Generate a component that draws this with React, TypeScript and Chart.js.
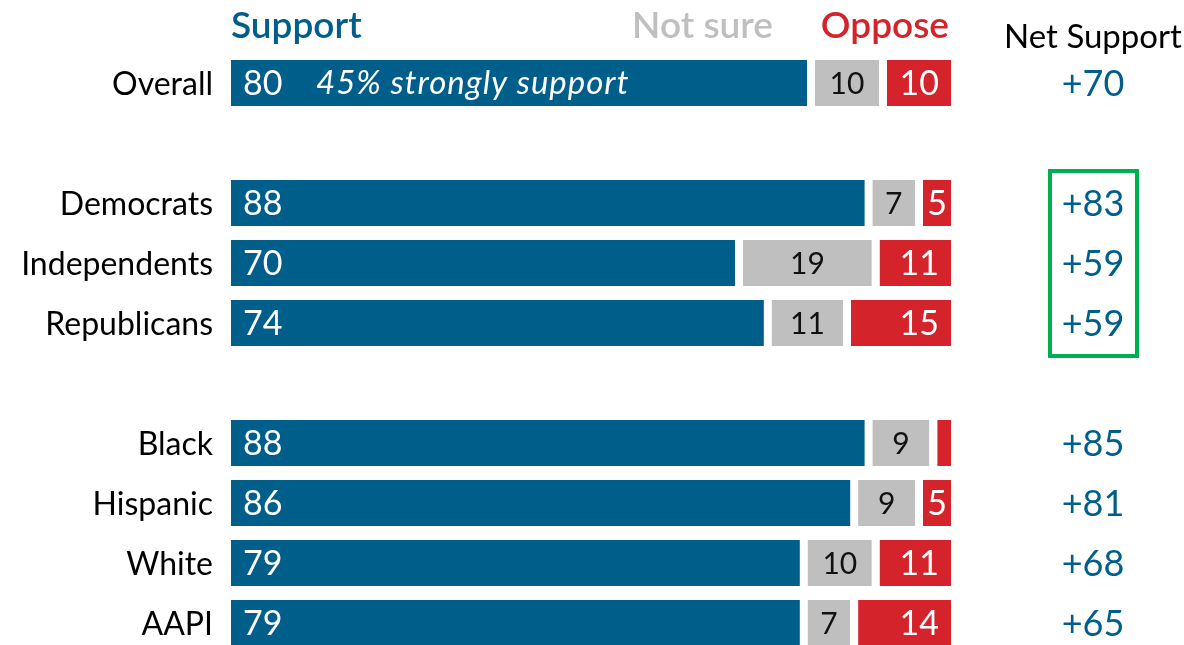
import React, { useEffect, useRef } from "react";
import { Chart, registerables } from "chart.js";

Chart.register(...registerables);

const categories = ["Overall", "", "Democrats", "Independents", "Republicans", "", "Black", "Hispanic", "White", "AAPI"];
const supportValues = [80, null, 88, 70, 74, null, 88, 86, 79, 79];
const notSureValues = [10, null, 7, 19, 11, null, 9, 9, 10, 7];
const opposeValues = [10, null, 5, 11, 15, null, 3, 5, 11, 14];
const headerLabels = ["Support", "Not sure", "Oppose"];
const netHeader = "Net Support";
const overallNote = "45% strongly support";
const boxedRows = ["Democrats", "Republicans"];

const BLUE = "#005e8a";
const GRAY = "#bfbfbf";
const RED = "#d4232b";
const GREEN = "#00b050";
const FONT = "Lato, 'Open Sans', sans-serif";

const labelPlugin = {
  id: "customLabels",
  afterDatasetsDraw(chart: any) {
    const ctx = chart.ctx;
    const y = chart.scales.y;
    const x = chart.scales.x;
    ctx.save();
    ctx.textBaseline = "alphabetic";
    ctx.font = `600 37px ${FONT}`;
    ctx.fillStyle = BLUE;
    ctx.textAlign = "left";
    ctx.fillText(headerLabels[0], x.getPixelForValue(0), 38);
    ctx.fillStyle = GRAY;
    ctx.textAlign = "right";
    ctx.fillText(headerLabels[1], 773, 38);
    ctx.fillStyle = RED;
    ctx.fillText(headerLabels[2], x.getPixelForValue(100) - 2, 38);
    ctx.fillStyle = "#000";
    ctx.textAlign = "center";
    ctx.font = `400 33px ${FONT}`;
    ctx.fillText(netHeader, 1093, 48);

    const m0 = chart.getDatasetMeta(0);
    const m1 = chart.getDatasetMeta(1);
    const m2 = chart.getDatasetMeta(2);
    categories.forEach((cat, i) => {
      if (supportValues[i] == null) return;
      const cy = y.getPixelForValue(i);
      ctx.font = `400 32px ${FONT}`;
      ctx.fillStyle = "#000";
      ctx.textAlign = "right";
      ctx.fillText(cat, 213, cy + 11.5);
      const e0 = m0.data[i];
      ctx.fillStyle = "#fff";
      ctx.textAlign = "left";
      ctx.font = `400 34px ${FONT}`;
      ctx.fillText(String(supportValues[i]), e0.base + 12, cy + 12);
      if (i === 0) {
        ctx.font = `italic 400 33px ${FONT}`;
        (ctx as any).letterSpacing = "1px";
        ctx.fillText(overallNote, 316, cy + 11);
        (ctx as any).letterSpacing = "0px";
      }
      const e1 = m1.data[i];
      ctx.fillStyle = "#111";
      ctx.textAlign = "center";
      ctx.font = `400 30px ${FONT}`;
      ctx.fillText(String(notSureValues[i]), (e1.base + 8 + e1.x) / 2, cy + 10.5);
      const e2 = m2.data[i];
      const ov = opposeValues[i] as number;
      if (ov >= 4) {
        ctx.fillStyle = "#fff";
        ctx.font = `400 34px ${FONT}`;
        const segW = e2.x - (e2.base + 8);
        if (segW < 40) {
          ctx.textAlign = "center";
          ctx.fillText(String(ov), (e2.base + 8 + e2.x) / 2, cy + 12);
        } else {
          ctx.textAlign = "right";
          ctx.fillText(String(ov), e2.x - 12, cy + 12);
        }
      }
      const net = (supportValues[i] as number) - ov;
      ctx.fillStyle = BLUE;
      ctx.textAlign = "center";
      ctx.font = `400 36px ${FONT}`;
      ctx.fillText("+" + net, 1093, cy + 13);
    });
    const i0 = categories.indexOf(boxedRows[0]);
    const i1 = categories.indexOf(boxedRows[1]);
    const top = y.getPixelForValue(i0) - 32;
    const bot = y.getPixelForValue(i1) + 33;
    ctx.strokeStyle = GREEN;
    ctx.lineWidth = 4;
    ctx.strokeRect(1050, top, 87, bot - top);
    ctx.restore();
  },
};

export default function App() {
  const ref = useRef<HTMLCanvasElement>(null);
  useEffect(() => {
    const gapBorder = { left: 8, top: 0, right: 0, bottom: 0 };
    const chart = new Chart(ref.current as HTMLCanvasElement, {
      type: "bar",
      data: {
        labels: categories,
        datasets: [
          { label: "Support", data: supportValues as any, backgroundColor: BLUE, borderWidth: 0 },
          { label: "Not sure", data: notSureValues as any, backgroundColor: GRAY, borderColor: "#ffffff", borderWidth: gapBorder as any, borderSkipped: false },
          { label: "Oppose", data: opposeValues as any, backgroundColor: RED, borderColor: "#ffffff", borderWidth: gapBorder as any, borderSkipped: false },
        ],
      },
      options: {
        indexAxis: "y",
        responsive: false,
        animation: false,
        events: [],
        layout: { padding: { left: 231, right: 233, top: 53, bottom: 7 } },
        datasets: { bar: { barPercentage: 1, categoryPercentage: 46 / 60 } },
        scales: {
          x: { stacked: true, min: 0, max: 100, display: false },
          y: { stacked: true, display: false },
        },
        plugins: { legend: { display: false }, tooltip: { enabled: false } },
      } as any,
      plugins: [labelPlugin],
    });
    return () => chart.destroy();
  }, []);
  return (
    <div style={{ position: "fixed", left: 0, top: 0, width: 1184, height: 645, overflow: "hidden", background: "#fff" }}>
      <canvas ref={ref} width={1184} height={660} style={{ width: 1184, height: 660, display: "block" }} />
    </div>
  );
}
